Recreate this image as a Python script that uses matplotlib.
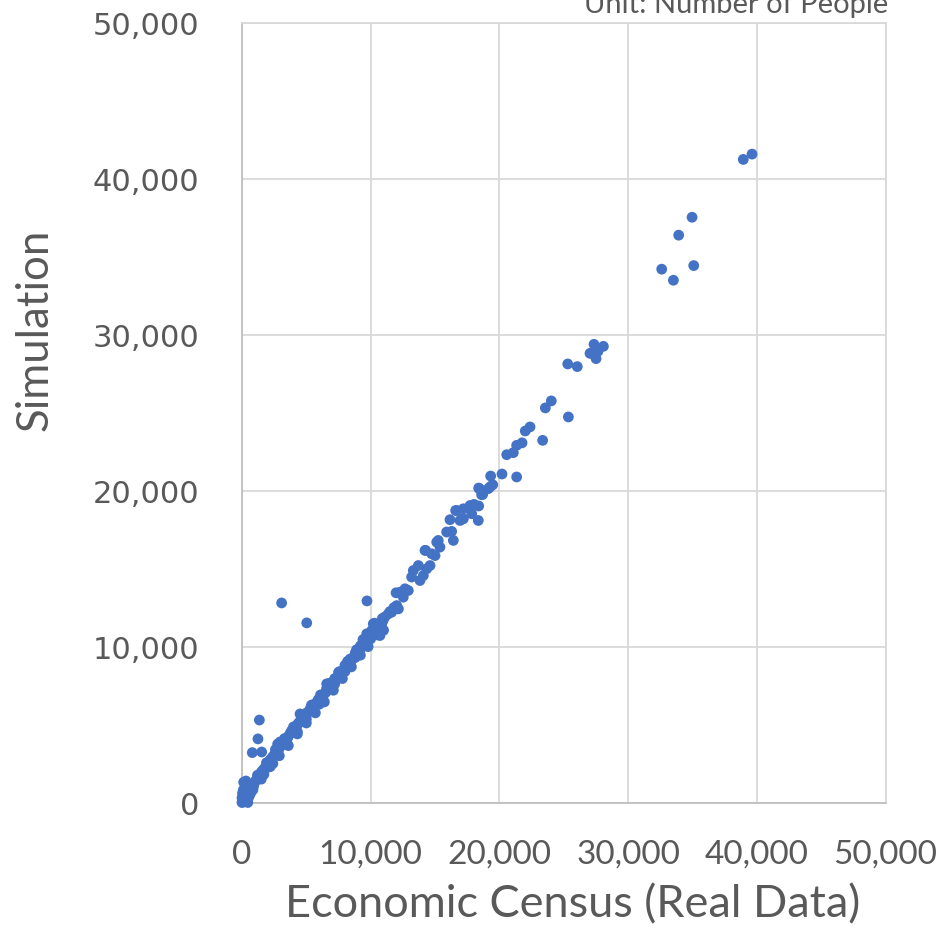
import matplotlib
matplotlib.use("Agg")
import matplotlib.pyplot as plt
from matplotlib.ticker import FuncFormatter

# Economic Census (real data) vs Simulation, number of people
real = [
    20, 60, 120, 180, 250, 300, 80, 150, 350, 420, 500, 550, 200, 600, 650, 300, 700, 750, 850, 900, 310, 130,
    0, 40, 100, 450, 0, 700,
    1000, 1100, 1250, 1400, 1500, 1650, 1800, 1950, 2100, 2200, 2350, 2500, 2600, 2750, 2900, 3050, 3200, 3300,
    3450, 3600, 3750, 3900, 4050, 4200, 4350, 4500, 4650, 4800, 4950, 5100, 5250, 5400, 5550, 5700, 5850, 6000,
    6150, 6300, 6500, 6650, 6800, 6950, 7100, 7300, 7500, 7700, 7900, 8100, 8300, 8500, 8700, 8900, 9100, 9300,
    9500, 9700, 9900, 10000, 10100, 10200, 10300, 10450, 10600, 10700, 10850, 10950,
    1200, 1900, 2600, 3300, 4000, 4700, 5400, 6100, 6800, 7500, 8200, 8900, 9400, 10300, 10900,
    1500, 2200, 2900, 3600, 4300, 5000, 5700, 6400, 7100, 7800, 8500, 9200, 9800, 10500, 11000,
    1580, 2050, 2450, 2820, 3130, 3520, 3830, 4130, 4420, 4720, 5020, 5320, 5620, 5920, 6230, 6570, 6880,
    7200, 7600, 8000, 8400, 8800, 9200, 9600, 11100, 11500, 11800,
    1300, 2000, 2950, 3860, 4510, 6580, 1700, 2400, 3500, 4300, 5000, 6000, 7200, 8000, 8800, 9600,
    2770, 1350, 1240, 800, 1530, 3080, 5030, 9710,
    9690, 10080, 10470, 10720, 10200, 10980, 11370, 11630, 12020, 12150, 12530, 11970, 12280, 12670, 12920,
    13180, 13310, 13830, 14090, 13700, 14350, 14610, 14270, 15000, 15130, 15380, 15250, 14740, 14220,
    15900, 16290, 16420, 16160, 16600, 16940, 17200, 17720, 18030, 18390, 17200, 18390, 18700, 19270, 19320,
    20200, 21340, 20570, 21080, 21340, 21760, 22010, 22380, 23360, 23570, 24030, 25360,
    17070, 17850, 18360, 16680, 19140, 18620, 18440, 19480,
    25310, 26050, 27040, 27510, 27660, 27350, 28080,
    32610, 33520, 33930, 34970, 35100, 38950, 39630,
]
simulation = [
    30, 120, 40, 210, 100, 320, 350, 500, 180, 450, 300, 620, 700, 480, 800, 900, 650, 900, 820, 1050, 1380, 1300,
    0, 600, 800, 0, 300, 1100,
    1300, 1450, 1600, 1800, 1950, 2100, 2250, 2450, 2600, 2750, 2900, 3050, 3200, 3350, 3500, 3650, 3850, 3950,
    4100, 4250, 4450, 4600, 4750, 4900, 5050, 5200, 5350, 5500, 5650, 5750, 5900, 6000, 6150, 6300, 6450, 6550,
    6700, 6850, 7050, 7250, 7400, 7550, 7700, 7900, 8050, 8250, 8450, 8650, 8850, 9100, 9350, 9550, 9750, 9950,
    10150, 10350, 10550, 10500, 10800, 10950, 11100, 11000, 11300, 11500, 11400, 11650,
    1750, 2550, 3400, 4100, 4850, 5600, 6250, 6900, 7650, 8350, 9050, 9800, 10450, 11500, 11800,
    1500, 2300, 3000, 3650, 4400, 5100, 5750, 6450, 7200, 7950, 8700, 9450, 10000, 10750, 11050,
    2000, 2500, 2950, 3350, 3700, 4100, 4450, 4800, 5100, 5400, 5750, 6050, 6300, 6600, 6900, 7300, 7650,
    7950, 8400, 8800, 9200, 9600, 10050, 10400, 11900, 12250, 12500,
    1550, 2250, 3880, 4610, 5680, 7610, 1800, 2500, 3750, 4550, 5350, 6300, 7600, 8400, 9300, 10200,
    3750, 5290, 4080, 3200, 3240, 12800, 11520, 12930,
    10820, 11030, 10930, 10710, 11460, 11780, 12100, 12210, 12630, 12420, 13170, 13450, 13490, 13710, 13600,
    14460, 14880, 14240, 14560, 15200, 14990, 15200, 16170, 15840, 16700, 16380, 16810, 15950, 16170,
    17350, 17390, 16810, 18140, 18730, 18090, 18200, 19050, 19120, 19020, 18840, 20170, 19760, 20240, 20940,
    21070, 20880, 22310, 22440, 22910, 23070, 23830, 24090, 23230, 25310, 25760, 24730,
    18160, 18520, 18090, 18730, 20130, 19740, 20130, 20380,
    28130, 27960, 28810, 28470, 28940, 29390, 29260,
    34210, 33500, 36390, 37540, 34440, 41250, 41590,
]

x_ticks = [0, 10000, 20000, 30000, 40000, 50000]
y_ticks = [0, 10000, 20000, 30000, 40000, 50000]
x_title = "Economic Census (Real Data)"
y_title = "Simulation"
unit_note = "Unit: Number of People"

TEXT = "#595959"
BLUE = "#4472C4"
GRID = "#D9D9D9"

fig = plt.figure(figsize=(9.41, 9.29), dpi=100)
ax = fig.add_axes([242 / 941, 1 - 803.5 / 929, (885.5 - 242) / 941, (803.5 - 24) / 929])

ax.scatter(real, simulation, s=60, color=BLUE, edgecolors="none", zorder=3, clip_on=False)

ax.set_xlim(0, 50000)
ax.set_ylim(0, 50000)
ax.set_xticks(x_ticks)
ax.set_yticks(y_ticks)
fmt = FuncFormatter(lambda v, p: f"{int(v):,}")
ax.xaxis.set_major_formatter(fmt)
ax.yaxis.set_major_formatter(fmt)
ax.grid(True, color=GRID, linewidth=1.3, zorder=0)
ax.set_axisbelow(True)
for side in ["top", "right"]:
    ax.spines[side].set_color(GRID)
    ax.spines[side].set_linewidth(1.3)
for side in ["left", "bottom"]:
    ax.spines[side].set_color("#BFBFBF")
    ax.spines[side].set_linewidth(1.3)
ax.tick_params(length=0)
ax.tick_params(axis="y", pad=31, labelsize=22, labelcolor=TEXT)
ax.tick_params(axis="x", pad=26, labelsize=24, labelcolor=TEXT)
for lab in ax.get_xticklabels():
    lab.set_fontfamily("Lato")
for lab in ax.get_yticklabels():
    lab.set_fontfamily("DejaVu Sans")

fig.text(573 / 941, 1 - 905 / 929, x_title, ha="center", va="center", fontsize=32.5,
         color=TEXT, family="Lato")
fig.text(35 / 941, 1 - 330 / 929, y_title, ha="center", va="center", fontsize=31.5,
         color=TEXT, family="Lato", rotation=90)
fig.text(888 / 941, 1 - 13 / 929, unit_note, ha="right", va="baseline", fontsize=21,
         color=TEXT, family="Lato")

fig.savefig("out.png", dpi=100)
